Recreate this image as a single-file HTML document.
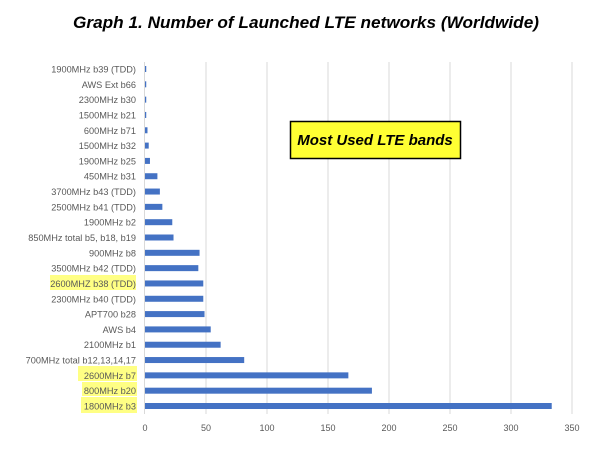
<!DOCTYPE html><html><head><style>
body{margin:0;background:#fff;width:613px;height:445px;overflow:hidden;font-family:"Liberation Sans",sans-serif}
</style></head><body>
<svg width="613" height="445" xmlns="http://www.w3.org/2000/svg" font-family="Liberation Sans, sans-serif">
<text x="306" y="28" text-anchor="middle" font-size="17" font-style="italic" font-weight="bold" fill="#000" textLength="466" lengthAdjust="spacingAndGlyphs">Graph 1. Number of Launched LTE networks (Worldwide)</text>
<g id="hl" fill="#ffff66" opacity="0.8">
<rect x="50" y="275" width="86" height="15"/>
<rect x="78" y="366" width="59" height="15"/>
<rect x="82" y="382" width="55" height="14"/>
<rect x="81" y="397" width="56" height="16"/>
</g>
<g stroke="#d9d9d9" stroke-width="1">
<line x1="206" y1="62" x2="206" y2="414"/><line x1="267" y1="62" x2="267" y2="414"/>
<line x1="328" y1="62" x2="328" y2="414"/><line x1="389" y1="62" x2="389" y2="414"/>
<line x1="450" y1="62" x2="450" y2="414"/><line x1="511" y1="62" x2="511" y2="414"/>
<line x1="572" y1="62" x2="572" y2="414"/>
</g>
<line x1="144.5" y1="62" x2="144.5" y2="414" stroke="#d9d9d9"/>
<g id="bars" fill="#4472c4"></g>
<g id="labels" font-size="9.2" fill="#595959" text-anchor="end"></g>
<g font-size="9" fill="#595959" text-anchor="middle">
<text x="145" y="431">0</text><text x="206" y="431">50</text><text x="267" y="431">100</text><text x="328" y="431">150</text><text x="389" y="431">200</text><text x="450" y="431">250</text><text x="511" y="431">300</text><text x="572" y="431">350</text>
</g>
<rect x="290.5" y="121.5" width="170" height="37" fill="#ffff33" stroke="#000" stroke-width="1.5"/>
<text x="375" y="145" text-anchor="middle" font-size="15" font-style="italic" font-weight="bold">Most Used LTE bands</text>
</svg>
<script>
var d=[["1900MHz b39 (TDD)",1],["AWS Ext b66",1],["2300MHz b30",1],["1500MHz b21",1],["600MHz b71",2],["1500MHz b32",3],["1900MHz b25",4],["450MHz b31",10],["3700MHz b43 (TDD)",12],["2500MHz b41 (TDD)",14],["1900MHz b2",22],["850MHz total b5, b18, b19",23],["900MHz b8",44],["3500MHz b42 (TDD)",43],["2600MHZ b38 (TDD)",47],["2300MHz b40 (TDD)",47],["APT700 b28",48],["AWS b4",53],["2100MHz b1",61],["700MHz total b12,13,14,17",80],["2600MHz b7",164],["800MHz b20",183],["1800MHz b3",328]];
var ns="http://www.w3.org/2000/svg",B=document.getElementById("bars"),L=document.getElementById("labels");
var n=d.length,step=(406-69)/(n-1);
d.forEach(function(r,i){var y=69+i*step;
var b=document.createElementNS(ns,"rect");b.setAttribute("x",145);b.setAttribute("y",y-3);b.setAttribute("width",Math.max(1,r[1]*1.24));b.setAttribute("height",6);B.appendChild(b);
var t=document.createElementNS(ns,"text");t.setAttribute("x",136);t.setAttribute("y",y+3.5);t.textContent=r[0];L.appendChild(t);});
</script>
</body></html>
